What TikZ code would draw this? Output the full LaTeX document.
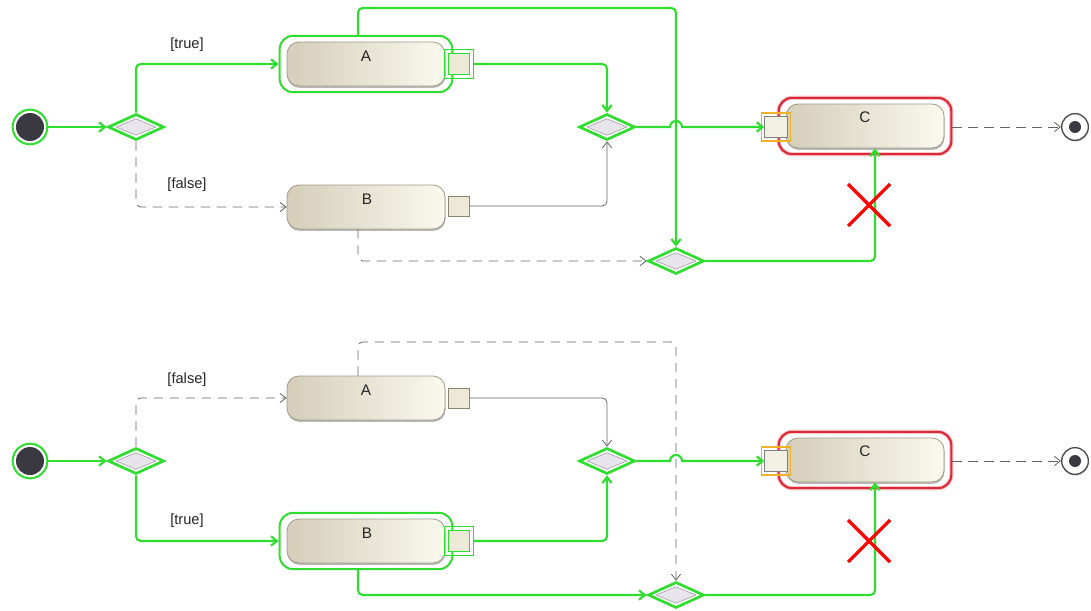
\documentclass[tikz,border=0pt]{standalone}
\usepackage{fontspec}
\setmainfont{Liberation Sans}
\usetikzlibrary{shapes.geometric,arrows.meta,fit,calc,shadows}
\definecolor{hg}{RGB}{46,222,46}
\definecolor{actL}{RGB}{212,206,186}
\definecolor{actR}{RGB}{250,249,238}
\definecolor{actB}{RGB}{160,154,132}
\definecolor{pinF}{RGB}{236,233,214}
\definecolor{pinB}{RGB}{140,134,112}
\definecolor{decF}{RGB}{232,228,236}
\definecolor{dark}{RGB}{58,56,64}
\definecolor{redc}{RGB}{222,40,56}
\definecolor{orc}{RGB}{240,178,40}
\definecolor{gline}{RGB}{100,100,100}
\begin{document}
\begin{tikzpicture}[x=0.75pt,y=-0.75pt,
  act/.style={rectangle, rounded corners=9pt, minimum width=118.5pt, minimum height=33pt,
    draw=actB, line width=0.6pt, left color=actL, right color=actR, inner sep=0pt,
    general shadow={fill=black!28, shadow xshift=0.4pt, shadow yshift=-1.4pt}},
  nm/.style={font=\fontsize{11.5}{13}\selectfont, text=black!85},
  lbl/.style={font=\fontsize{11}{13}\selectfont, inner sep=1pt, text=black!85},
  hl/.style={rectangle, draw=hg, line width=1.5pt, rounded corners=10pt, inner xsep=5.2pt, inner ysep=4.3pt},
  hlred/.style={rectangle, draw=redc, line width=1.6pt, rounded corners=10pt, inner xsep=5.2pt, inner ysep=4.3pt,
    preaction={draw=redc!25, line width=3.2pt}},
  pinbox/.style={rectangle, draw=pinB, fill=pinF, minimum width=16pt, minimum height=15pt, inner sep=0pt, line width=0.5pt},
  hpin/.style={rectangle, draw=hg, fill=pinF, minimum width=16pt, minimum height=16pt, inner sep=0pt, line width=1pt},
  hpinout/.style={rectangle, draw=hg, line width=1pt, inner sep=2.2pt},
  cpin/.style={rectangle, draw=gray, fill=pinF!70!white, minimum width=17pt, minimum height=16pt, inner sep=0pt, line width=0.5pt},
  cpinout/.style={rectangle, draw=orc, line width=1pt, inner sep=2.2pt},
  dec/.style={diamond, draw=hg, line width=2pt, fill=white, minimum width=42pt, minimum height=19.5pt, inner sep=0pt},
  decin/.style={diamond, draw=gray!70, line width=0.5pt, fill=decF, minimum width=30pt, minimum height=12.5pt, inner sep=0pt},
  initn/.style={circle, draw=hg, line width=1.5pt, fill=white, minimum size=26pt, inner sep=0pt},
  initdot/.style={circle, fill=dark, minimum size=21pt, inner sep=0pt},
  finn/.style={circle, draw=gray!60!black, line width=1pt, fill=white, minimum size=20pt, inner sep=0pt,
    general shadow={fill=black!20, shadow xshift=0.4pt, shadow yshift=-1pt}},
  findot/.style={circle, fill=dark, minimum size=9pt, inner sep=0pt},
  tip/.style={-{Straight Barb[length=4.5pt,width=7pt]}},
  gl/.style={draw=hg, line width=1.6pt, rounded corners=3.5pt, tip},
  gy/.style={draw=gline, line width=0.6pt, rounded corners=3.5pt, tip},
  dl/.style={draw=gline, line width=0.6pt, rounded corners=3.5pt, dash pattern=on 7pt off 5pt, tip},
  redx/.style={draw=red, line width=2.4pt}
]
\useasboundingbox (0,0) rectangle (1091,610);

% ================= TOP =================
\node[initn] (i1) at (30,127) {};
\node[initdot] (i1d) at (i1) {};
\node[dec] (d1) at (136,127) {};
\node[decin] (d1i) at (d1) {};
\node[act] (A) at (366,64) {};
\node[nm] (An) at (366,56) {A};
\node[hl, fit=(A)] (hA) {};
\node[hpin] (pA) at (459,64) {};
\node[hpinout, fit=(pA)] (pAo) {};
\node[act] (B) at (366,207) {};
\node[nm] (Bn) at (367,199) {B};
\node[pinbox] (pB) at (459,206) {};
\node[dec] (d2) at (607,127) {};
\node[decin] (d2i) at (d2) {};
\node[dec] (d3) at (676,261) {};
\node[decin] (d3i) at (d3) {};
\node[act] (C) at (865,126) {};
\node[nm] (Cn) at (865,117) {C};
\node[hlred, fit=(C)] (hC) {};
\node[cpin] (pC) at (776,127) {};
\node[cpinout, fit=(pC)] (pCo) {};
\node[finn] (f1) at (1075,127) {};
\node[findot] (f1d) at (f1) {};
\node[lbl] (l1) at (187,45) {[true]};
\node[lbl] (l2) at (187,185) {[false]};
\coordinate (t1) at (676,8);
\coordinate (hop1) at (676,127);

\draw[gl] (i1) -- (d1);
\draw[gl] (d1.north) |- (hA.west);
\draw[dl] (d1.south) |- (B.west);
\draw[gl] (pAo.east) -| (d2.north);
\draw[gy] (pB.east) -| (d2.south);
\draw[gl] ([xshift=-6pt]hA.north) |- (t1) -- (d3.north);
\draw[gl, rounded corners=0pt] (d2.east) -- ($(hop1)+(-6,0)$) arc[start angle=180,end angle=360,radius=6] -- (pC.west);
\draw[dl] ([xshift=-6pt]B.south) |- (d3.west);
\draw[gl] (d3.east) -| ([xshift=7.5pt]C.south);
\draw[dl] (hC.east |- f1) -- (f1);
\draw[redx] (848,184) -- (890,226) (848,226) -- (890,184);

% ================= BOTTOM =================
\node[initn] (i2) at (30,461) {};
\node[initdot] (i2d) at (i2) {};
\node[dec] (e1) at (136,461) {};
\node[decin] (e1i) at (e1) {};
\node[act] (A2) at (366,398) {};
\node[nm] (A2n) at (366,390) {A};
\node[pinbox] (pA2) at (459,398) {};
\node[act] (B2) at (366,541) {};
\node[nm] (B2n) at (367,533) {B};
\node[hl, fit=(B2)] (hB2) {};
\node[hpin] (pB2) at (459,541) {};
\node[hpinout, fit=(pB2)] (pB2o) {};
\node[dec] (e2) at (607,461) {};
\node[decin] (e2i) at (e2) {};
\node[dec] (e3) at (676,595) {};
\node[decin] (e3i) at (e3) {};
\node[act] (C2) at (865,460) {};
\node[nm] (C2n) at (865,451) {C};
\node[hlred, fit=(C2)] (hC2) {};
\node[cpin] (pC2) at (776,461) {};
\node[cpinout, fit=(pC2)] (pC2o) {};
\node[finn] (f2) at (1075,461) {};
\node[findot] (f2d) at (f2) {};
\node[lbl] (l3) at (187,380) {[false]};
\node[lbl] (l4) at (187,521) {[true]};
\coordinate (t2) at (676,342);
\coordinate (hop2) at (676,461);

\draw[gl] (i2) -- (e1);
\draw[dl] (e1.north) |- (A2.west);
\draw[gl] (e1.south) |- (hB2.west);
\draw[gy] (pA2.east) -| (e2.north);
\draw[gl] (pB2o.east) -| (e2.south);
\draw[dl] ([xshift=-6pt]A2.north) |- (t2) -- (e3.north);
\draw[gl, rounded corners=0pt] (e2.east) -- ($(hop2)+(-6,0)$) arc[start angle=180,end angle=360,radius=6] -- (pC2.west);
\draw[gl] ([xshift=-6pt]hB2.south) |- (e3.west);
\draw[gl] (e3.east) -| ([xshift=7.5pt]C2.south);
\draw[dl] (hC2.east |- f2) -- (f2);
\draw[redx] (848,520) -- (890,562) (848,562) -- (890,520);
\end{tikzpicture}
\end{document}
